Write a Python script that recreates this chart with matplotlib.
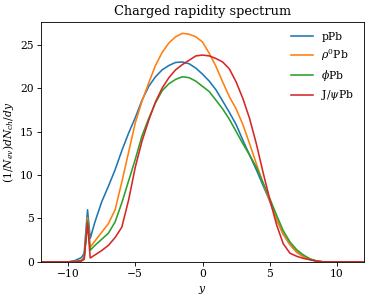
import numpy as np
import matplotlib
matplotlib.use("Agg")
import matplotlib.pyplot as plt

plt.rcParams['font.family'] = 'DejaVu Serif'
plt.rcParams['mathtext.fontset'] = 'dejavuserif'

# rapidity grid
y = [-12, -10, -9.5, -9, -8.8, -8.55, -8.35, -8, -7.5, -7, -6.5, -6, -5.5, -5,
     -4.5, -4, -3.5, -3, -2.5, -2, -1.5, -1, -0.5, 0, 0.5, 1, 1.5, 2, 2.5, 3,
     3.5, 4, 4.5, 5, 5.5, 6, 6.5, 7, 7.5, 8, 8.5, 9, 10, 12]

ppb = [0, 0, 0.15, 0.5, 1.0, 6.0, 2.7, 4.6, 6.9, 8.7, 10.6, 12.8, 14.8, 16.6,
       18.6, 20.2, 21.3, 22.1, 22.6, 22.95, 23.0, 22.8, 22.3, 21.6, 20.8, 19.8,
       18.5, 17.2, 15.8, 14.0, 12.3, 10.6, 8.8, 7.0, 4.9, 3.2, 2.0, 1.15, 0.6,
       0.25, 0.08, 0, 0, 0]
rho = [0, 0, 0.05, 0.2, 0.5, 5.1, 1.7, 2.4, 3.4, 4.4, 6.0, 9.2, 12.6, 16.0,
       18.5, 20.6, 22.6, 24.1, 25.2, 25.9, 26.3, 26.2, 25.9, 25.3, 24.0, 22.5,
       20.7, 19.0, 17.6, 15.8, 13.6, 11.3, 9.1, 7.0, 4.9, 3.2, 2.0, 1.1, 0.6,
       0.3, 0.1, 0, 0, 0]
phi = [0, 0, 0.03, 0.15, 0.4, 4.7, 1.35, 1.9, 2.6, 3.3, 4.6, 6.8, 9.3, 11.8,
       14.5, 16.5, 18.3, 19.7, 20.5, 21.0, 21.3, 21.2, 20.8, 20.2, 19.6, 18.6,
       17.6, 16.4, 15.0, 13.6, 12.3, 10.9, 9.1, 7.3, 5.4, 3.6, 2.3, 1.4, 0.8,
       0.35, 0.1, 0, 0, 0]
jpsi = [0, 0, 0.02, 0.1, 0.3, 4.5, 0.45, 0.8, 1.3, 1.9, 2.8, 4.0, 7.1, 10.9,
        13.9, 16.3, 18.4, 20.0, 21.2, 22.1, 22.7, 23.2, 23.7, 23.8, 23.7, 23.4,
        23.0, 22.2, 20.7, 18.8, 16.5, 13.6, 10.3, 7.2, 4.3, 2.1, 1.0, 0.65, 0.4,
        0.25, 0.08, 0, 0, 0]

fig = plt.figure(figsize=(374 / 77, 300 / 77), dpi=77)
ax = fig.add_axes([0.11, 0.127, 0.863, 0.8])
ax.plot(y, ppb, label="pPb")
ax.plot(y, rho, label=r"$\rho^0$Pb")
ax.plot(y, phi, label=r"$\phi$Pb")
ax.plot(y, jpsi, label=r"J/$\psi$Pb")
ax.set_xlim(-12, 12)
ax.set_ylim(0, None)
ax.set_xlabel(r"$y$")
ax.set_ylabel(r"$(1/N_{ev}) dN_{ch}/dy$")
ax.set_title("Charged rapidity spectrum")
ax.legend(frameon=False)
fig.savefig("out.png")
